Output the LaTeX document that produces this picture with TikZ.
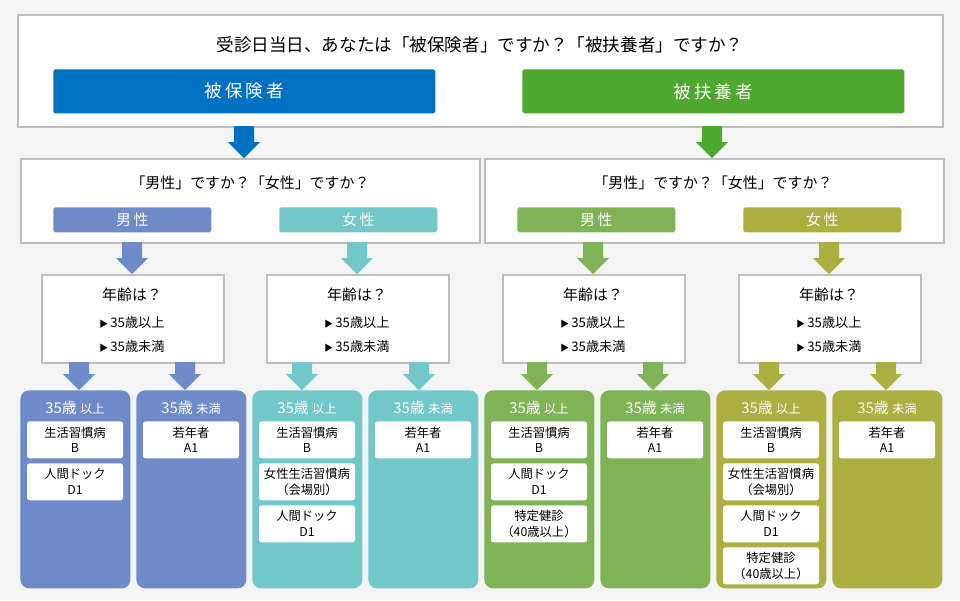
\documentclass[tikz,border=0pt]{standalone}
\usepackage{fontspec}
\setmainfont{Noto Sans CJK JP}
\usetikzlibrary{positioning}

\definecolor{hoken}{HTML}{0070C0}
\definecolor{fuyou}{HTML}{4EA72E}
\definecolor{hman}{HTML}{6F8AC8}
\definecolor{hwoman}{HTML}{72C7C8}
\definecolor{fman}{HTML}{7FB356}
\definecolor{fwoman}{HTML}{ABAF3F}
\definecolor{frame}{HTML}{BDBDBD}
\definecolor{bg}{HTML}{F4F4F4}

\newlength{\px}
\setlength{\px}{0.02cm}
\tikzset{
  panel/.style={draw=frame, line width=1.2pt, fill=white, inner sep=0pt, anchor=north west},
  bar/.style={fill=#1, rounded corners=1pt, inner sep=0pt, anchor=north west, text=white},
  column/.style={fill=#1, rounded corners=5pt, inner sep=0pt, anchor=north west},
  card/.style={fill=white, rounded corners=1.5pt, minimum width=96\px, minimum height=37\px, inner sep=0pt, align=center, font=\fontsize{7}{9}\selectfont, anchor=north},
  head/.style={text=white, font=\fontsize{8.5}{10}\selectfont, anchor=center}
}
\newcommand{\flowarrow}[4]{% x, top, bottom, colour
  \fill[#4] (#1-10,#2) -- (#1+10,#2) -- (#1+10,#3-16) -- (#1+16,#3-16) -- (#1,#3) -- (#1-16,#3-16) -- (#1-10,#3-16) -- cycle;}

\begin{document}
\begin{tikzpicture}[x=0.02cm, y=-0.02cm]
  \fill[bg] (0,0) rectangle (960,600);

  % top question
  \node[panel, minimum width=925\px, minimum height=112\px] (top) at (17,14) {};
  \node[font=\fontsize{10}{12}\selectfont] (q) at (480,45) {受診日当日、あなたは「被保険者」ですか？「被扶養者」ですか？};
  \node[bar=hoken, minimum width=382\px, minimum height=44\px, font=\fontsize{10}{12}\selectfont] (hb) at (53,69) {被\,保\,険\,者};
  \node[bar=fuyou, minimum width=382\px, minimum height=44\px, font=\fontsize{10}{12}\selectfont] (fb) at (522,69) {被\,扶\,養\,者};
  \flowarrow{244}{126}{158}{hoken}
  \flowarrow{712}{126}{158}{fuyou}

  % gender panels
  \foreach \x/\cx/\cm/\cw/\nm in {20/250/hman/hwoman/h, 484/713/fman/fwoman/f}{
    \node[panel, minimum width=459\px, minimum height=84\px] (g\nm) at (\x,158) {};
    \node[font=\fontsize{8.5}{10}\selectfont] at (\cx,183) {「男性」ですか？「女性」ですか？};
    \node[bar=\cm, minimum width=158\px, minimum height=25\px, font=\fontsize{8.5}{10}\selectfont] (m\nm) at (\x+33,207) {男\,性};
    \node[bar=\cw, minimum width=158\px, minimum height=25\px, font=\fontsize{8.5}{10}\selectfont] (w\nm) at (\x+259,207) {女\,性};
  }

  % age panels
  \foreach \x/\c/\a/\b in {41/hman/79/185, 266/hwoman/302/419, 502/fman/537/653, 738/fwoman/769/886}{
    \flowarrow{\x+91}{242}{274}{\c}
    \node[panel, minimum width=182\px, minimum height=88\px] (age\x) at (\x,274) {};
    \node[font=\fontsize{8.5}{10}\selectfont] at (\x+91,295) {年齢は？};
    \node[font=\fontsize{7.5}{9}\selectfont] at (\x+91,322) {{\fontsize{5}{6}\selectfont ▶}\,35歳以上};
    \node[font=\fontsize{7.5}{9}\selectfont] at (\x+91,346) {{\fontsize{5}{6}\selectfont ▶}\,35歳未満};
    \flowarrow{\a}{362}{390}{\c}
    \flowarrow{\b}{362}{390}{\c}
  }

  % result columns
  \foreach \x/\c/\t in {20/hman/以上, 136/hman/未満, 252/hwoman/以上, 368/hwoman/未満, 484/fman/以上, 600/fman/未満, 716/fwoman/以上, 832/fwoman/未満}{
    \node[column=\c, minimum width=110\px, minimum height=198\px] (col\x) at (\x,390) {};
    \node[head] at (\x+55,408) {35歳 {\fontsize{7}{8}\selectfont\t}};
  }
  % cards
  \foreach \x/\y/\t in {
    75/421/{生活習慣病\\B}, 75/463/{人間ドック\\D1},
    191/421/{若年者\\A1},
    307/421/{生活習慣病\\B}, 307/463/{女性生活習慣病\\（会場別）}, 307/505/{人間ドック\\D1},
    423/421/{若年者\\A1},
    539/421/{生活習慣病\\B}, 539/463/{人間ドック\\D1}, 539/505/{特定健診\\（40歳以上）},
    655/421/{若年者\\A1},
    771/421/{生活習慣病\\B}, 771/463/{女性生活習慣病\\（会場別）}, 771/505/{人間ドック\\D1}, 771/547/{特定健診\\（40歳以上）},
    887/421/{若年者\\A1}}{
    \node[card] at (\x,\y) {\t};
  }
\end{tikzpicture}
\end{document}
